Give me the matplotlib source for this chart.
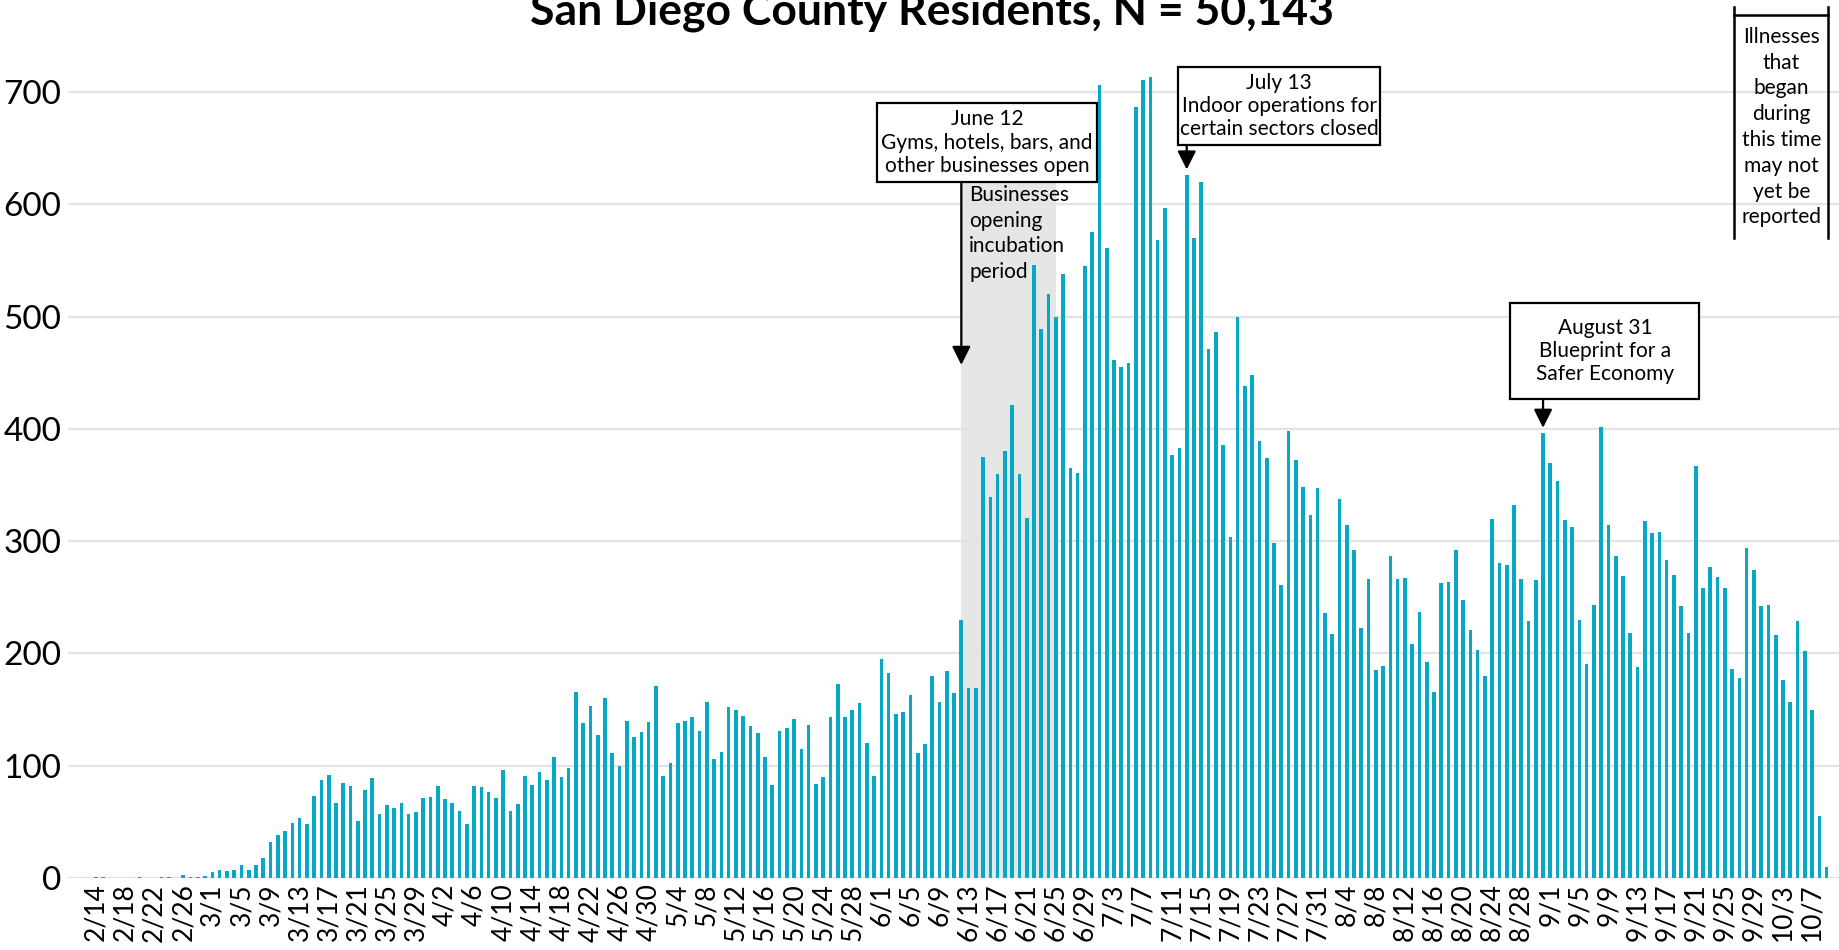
import pandas as pd
import numpy as np
from matplotlib import pyplot as plt
from matplotlib.patches import Rectangle

# daily cases by onset date, 2/14 - 10/9
feb_cases = [1, 1, 0, 0, 0, 0, 1, 0, 0, 1, 1, 0, 3, 1, 1, 2]
mar_cases = [5, 7, 6, 7, 12, 7, 12, 18, 32, 38, 42, 49, 53, 48, 73, 87, 92, 67, 85, 82,
             51, 78, 89, 57, 65, 62, 67, 57, 59, 71, 72]
apr_cases = [82, 70, 67, 60, 48, 82, 81, 77, 71, 96, 60, 66, 91, 83, 94, 87, 108, 90, 98, 166,
             138, 153, 127, 160, 111, 100, 140, 126, 130, 139]
may_cases = [171, 91, 102, 138, 140, 143, 131, 157, 106, 112, 152, 150, 144, 135, 129, 108, 83,
             131, 134, 142, 115, 136, 84, 90, 143, 173, 143, 150, 156, 120, 91]
jun_cases = [195, 183, 146, 148, 163, 111, 119, 180, 157, 184, 165, 230, 169, 169, 375, 339, 360,
             380, 421, 360, 321, 546, 489, 520, 500, 538, 365, 361, 545, 575]
jul_cases = [706, 561, 461, 455, 459, 687, 711, 713, 568, 597, 377, 383, 626, 570, 620, 471, 486,
             386, 304, 500, 438, 448, 389, 374, 298, 261, 398, 372, 348, 323, 347]
aug_cases = [236, 217, 338, 314, 292, 223, 266, 185, 189, 287, 266, 267, 208, 237, 192, 166, 263,
             264, 292, 248, 221, 203, 180, 320, 281, 279, 332, 266, 229, 265, 396]
sep_cases = [370, 354, 319, 313, 230, 191, 243, 402, 314, 287, 269, 218, 188, 318, 307, 308, 283,
             270, 242, 218, 367, 258, 277, 268, 258, 186, 178, 294, 274, 242]
oct_cases = [243, 216, 176, 157, 229, 202, 150, 55, 10]

cases = feb_cases + mar_cases + apr_cases + may_cases + jun_cases + jul_cases + aug_cases + sep_cases + oct_cases
dates = pd.date_range("2020-02-14", periods=len(cases), freq="D")
labels = [f"{d.month}/{d.day}" for d in dates]

plt.rcParams['font.family'] = ['Lato', 'DejaVu Sans']

fig = plt.figure(figsize=(18.39, 9.5), dpi=100)
ax = fig.add_axes([68 / 1839, 72 / 950, 1 - 68 / 1839, 1 - 72 / 950])

x = np.arange(len(cases))
ax.bar(x, cases, width=0.5, color='#06a8c6', zorder=3)

ax.set_xlim(-3.85, 239.7)
ax.set_ylim(0, 782)
ax.set_yticks(range(0, 800, 100))
ax.tick_params(axis='y', labelsize=24, length=0, pad=5)
ax.set_xticks(x[::4])
ax.set_xticklabels(labels[::4], rotation=90, fontsize=19)
ax.tick_params(axis='x', length=0, pad=4)
ax.grid(axis='y', color='#e3e3e3', linewidth=1.6, zorder=0)
for s in ax.spines.values():
    s.set_visible(False)

# incubation period shading
ax.fill_between([119, 132], 0, 620, color='#e6e6e6', zorder=1, linewidth=0)
ax.text(120.1, 617, "Businesses\nopening\nincubation\nperiod", ha='left', va='top',
        fontsize=15, linespacing=1.35, zorder=4)

arrow = dict(arrowstyle='-|>', color='black', lw=1.6, mutation_scale=28, shrinkA=0, shrinkB=0)


def callout(x0, x1, y0, y1, text):
    ax.add_patch(Rectangle((x0, y0), x1 - x0, y1 - y0, fc='white', ec='black', lw=1.6, zorder=6))
    ax.text((x0 + x1) / 2, (y0 + y1) / 2, text, ha='center', va='center',
            fontsize=15, linespacing=1.2, zorder=7)


callout(107.4, 137.7, 620, 690, "June 12\nGyms, hotels, bars, and\nother businesses open")
ax.annotate("", xy=(119, 457), xytext=(119, 620), arrowprops=arrow, zorder=5)

callout(148.8, 176.6, 653, 722, "July 13\nIndoor operations for\ncertain sectors closed")
ax.annotate("", xy=(150, 631), xytext=(150, 653), arrowprops=arrow, zorder=5)

callout(194.5, 220.5, 427, 512, "August 31\nBlueprint for a\nSafer Economy")
ax.annotate("", xy=(199, 401), xytext=(199, 427), arrowprops=arrow, zorder=5)

# reporting lag bracket
ax.plot([225.3, 225.3], [776, 570], color='black', lw=1.8, clip_on=False, zorder=6)
ax.plot([238.2, 238.2], [776, 570], color='black', lw=1.8, clip_on=False, zorder=6)
ax.plot([225.3, 238.2], [769, 769], color='black', lw=1.8, clip_on=False, zorder=6)
ax.text(231.75, 758, "Illnesses\nthat\nbegan\nduring\nthis time\nmay not\nyet be\nreported",
        ha='center', va='top', fontsize=15, linespacing=1.36, zorder=6)

fig.text(932 / 1839, 1 - 24 / 950, "San Diego County Residents, N = 50,143", ha='center',
         va='baseline', fontsize=32, fontweight='bold')

fig.savefig("out.png", dpi=100)
